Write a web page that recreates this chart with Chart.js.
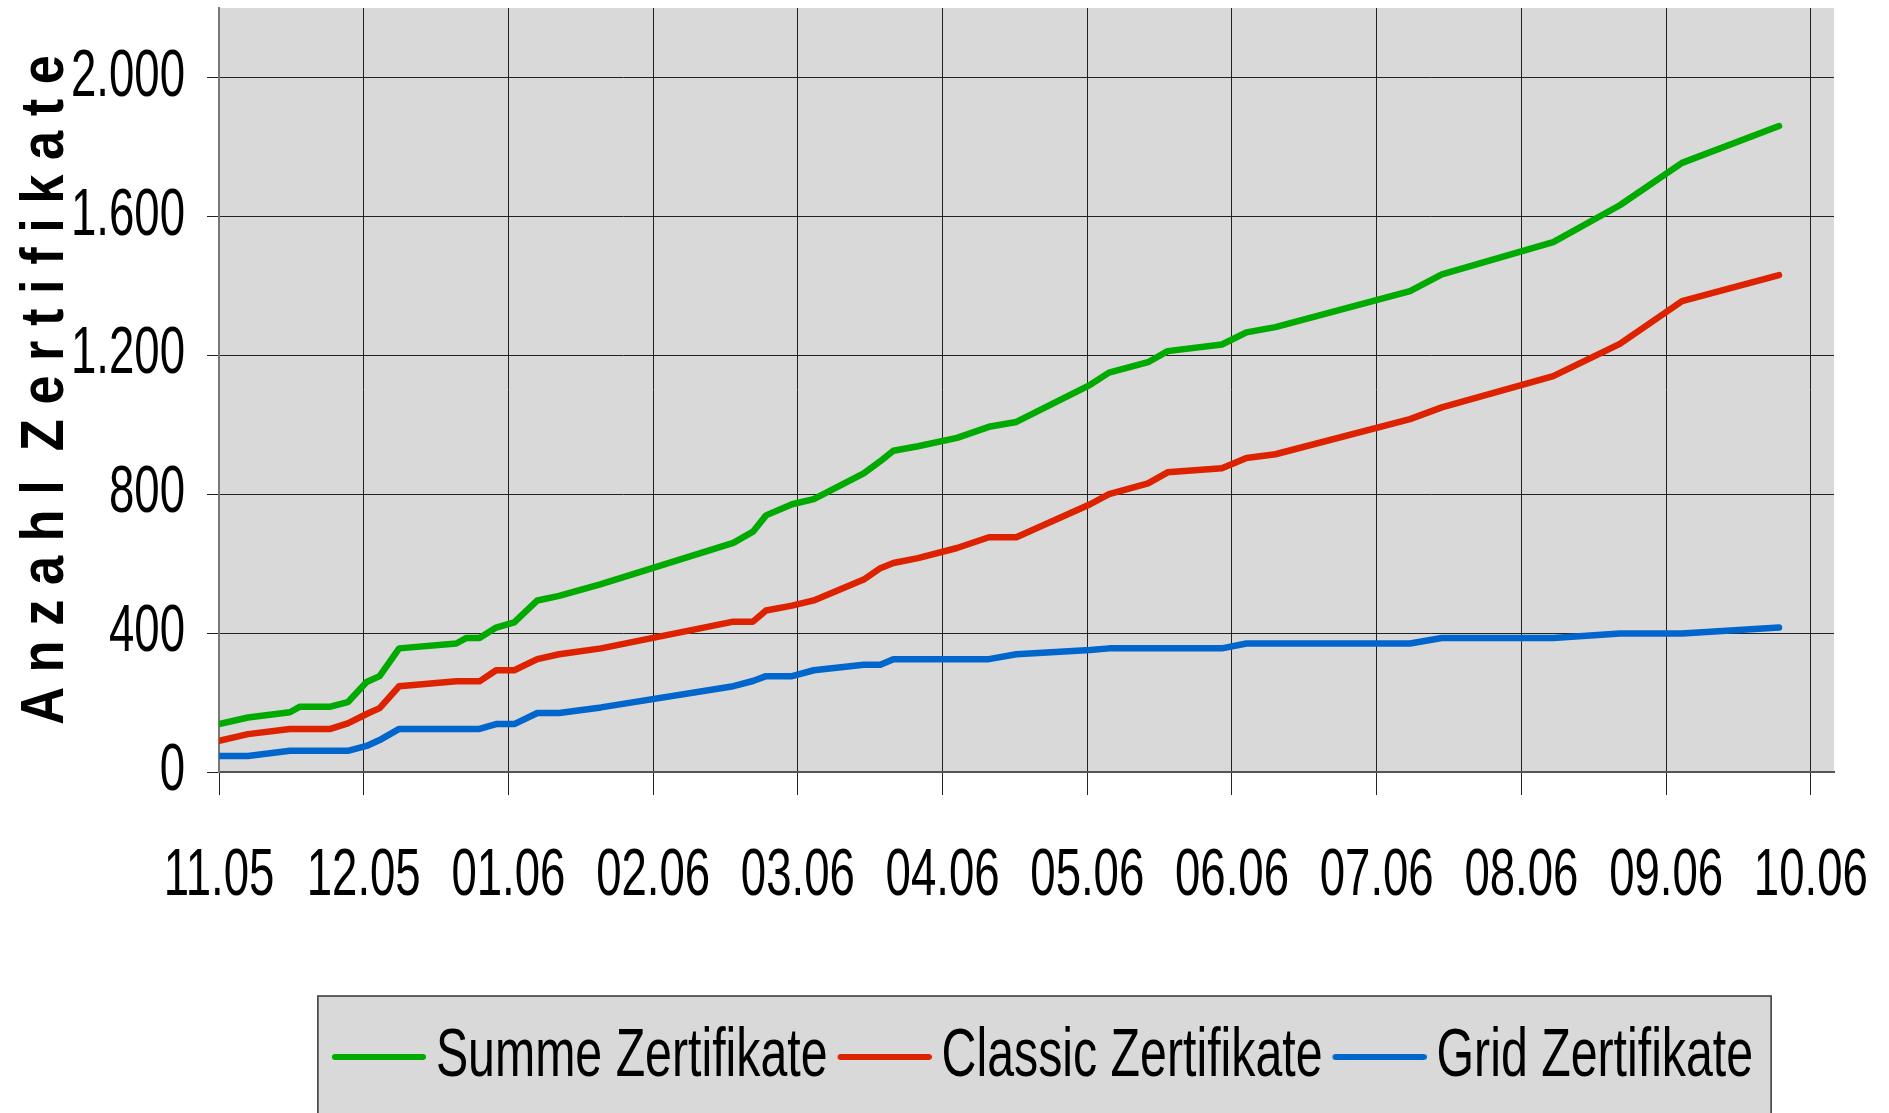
<!DOCTYPE html>
<html>
<head>
<meta charset="utf-8">
<title>Anzahl Zertifikate</title>
<script src="https://cdn.jsdelivr.net/npm/chart.js@4.4.1/dist/chart.umd.min.js"></script>
<style>
  html, body { margin: 0; padding: 0; background: #fff; }
  #chart { display: block; }
</style>
</head>
<body>
<canvas id="chart" width="1889" height="1113"></canvas>
<script>
// month labels on the x axis (one per grid line, starting 11.05)
const monthLabels = ['11.05', '12.05', '01.06', '02.06', '03.06', '04.06', '05.06', '06.06', '07.06', '08.06', '09.06', '10.06'];
const yTickLabels = ['0', '400', '800', '1.200', '1.600', '2.000'];

// position of each data point, in months since 11.05
const datePos = [0, 0.2, 0.49, 0.56, 0.77, 0.89, 1.02, 1.11, 1.245, 1.64, 1.71, 1.8, 1.915, 2.04, 2.2, 2.35, 2.64,
  3.554, 3.69, 3.78, 3.96, 4.11, 4.455, 4.57, 4.66, 4.83, 5.1, 5.32, 5.51, 6.02, 6.15, 6.42, 6.555, 6.93, 7.1, 7.3,
  8.23, 8.45, 9.22, 9.68, 10.11, 10.78];

const summe = [138, 157, 172, 188, 188, 201, 259, 276, 356, 370, 386, 386, 416, 431, 494, 507, 541,
  660, 692, 739, 771, 786, 860, 895, 925, 938, 962, 994, 1008, 1115, 1150, 1180, 1212, 1231, 1266, 1281,
  1385, 1433, 1526, 1632, 1754, 1860];

const classic = [90, 109, 124, 124, 124, 140, 167, 184, 247, 261, 261, 261, 293, 293, 325, 339, 356,
  433, 433, 465, 479, 494, 554, 587, 602, 616, 645, 676, 676, 771, 800, 831, 863, 875, 904, 915,
  1016, 1050, 1140, 1233, 1356, 1431];

const grid = [46, 46, 61, 61, 61, 61, 75, 92, 124, 124, 124, 124, 138, 138, 170, 170, 186,
  247, 262, 276, 276, 293, 309, 309, 325, 325, 325, 325, 339, 351, 356, 356, 356, 356, 370, 370,
  370, 386, 386, 399, 399, 416];

const textFont = "'Liberation Sans', Arial, sans-serif";

function toPoints(values) {
  return datePos.map((x, i) => ({ x: x, y: values[i] }));
}

// legend sample: a line that starts at the left edge of the legend box and runs past it
function legendSample(color) {
  const c = document.createElement('canvas');
  c.width = 118;
  c.height = 8;
  const g = c.getContext('2d');
  g.strokeStyle = color;
  g.lineWidth = 6;
  g.lineCap = 'round';
  g.beginPath();
  g.moveTo(27, 4);
  g.lineTo(115, 4);
  g.stroke();
  return c;
}

function makeLine(label, values, color) {
  return {
    label: label,
    data: toPoints(values),
    borderColor: color,
    backgroundColor: color,
    borderWidth: 6.5,
    borderCapStyle: 'round',
    borderJoinStyle: 'round',
    pointRadius: 0,
    pointHoverRadius: 0,
    pointStyle: legendSample(color),
    fill: false,
    tension: 0
  };
}

// the original uses a narrow face; squeeze text horizontally (bold title a bit less)
function condenseText(ctx) {
  const fill = ctx.fillText.bind(ctx);
  const measure = ctx.measureText.bind(ctx);
  const factor = () => {
    if (/bold/.test(ctx.font)) return 0.845;
    if (/68px/.test(ctx.font)) return 0.71; // legend
    return 0.69;
  };
  ctx.fillText = function (text, x, y) {
    const k = factor();
    ctx.save();
    ctx.translate(x, y);
    ctx.scale(k, 1);
    fill(text, 0, 0);
    ctx.restore();
  };
  ctx.measureText = function (text) {
    const m = measure(text);
    const k = factor();
    return {
      width: m.width * k,
      actualBoundingBoxLeft: m.actualBoundingBoxLeft * k,
      actualBoundingBoxRight: m.actualBoundingBoxRight * k,
      actualBoundingBoxAscent: m.actualBoundingBoxAscent,
      actualBoundingBoxDescent: m.actualBoundingBoxDescent
    };
  };
}

// grey plot area
const plotBackground = {
  id: 'plotBackground',
  beforeDraw(chart) {
    const { ctx, chartArea: a } = chart;
    ctx.save();
    ctx.fillStyle = '#d9d9d9';
    ctx.fillRect(a.left, a.top, a.right - a.left, a.bottom - a.top);
    ctx.restore();
  }
};

// grey framed box behind the legend, legend nudged right like in the original
const legendFrame = {
  id: 'legendFrame',
  afterLayout(chart) {
    chart.legend.left += 16;
    chart.legend.right += 16;
  },
  beforeDraw(chart) {
    const legend = chart.legend;
    const boxes = legend.legendHitBoxes;
    if (!boxes || !boxes.length) return;
    const first = boxes[0];
    const last = boxes[boxes.length - 1];
    const left = first.left - 14;
    const right = last.left + last.width + 18;
    const top = legend.top - 17;
    const ctx = chart.ctx;
    ctx.save();
    ctx.fillStyle = '#d9d9d9';
    ctx.fillRect(left, top, right - left, chart.height - top + 5);
    ctx.strokeStyle = '#333';
    ctx.lineWidth = 1.5;
    ctx.strokeRect(left, top, right - left, chart.height - top + 5);
    ctx.restore();
  }
};

const ctx = document.getElementById('chart').getContext('2d');
condenseText(ctx);

new Chart(ctx, {
  type: 'line',
  data: {
    datasets: [
      makeLine('Summe Zertifikate', summe, '#00aa00'),
      makeLine('Classic Zertifikate', classic, '#dd2200'),
      makeLine('Grid Zertifikate', grid, '#0066cc')
    ]
  },
  options: {
    responsive: false,
    animation: false,
    devicePixelRatio: 1,
    events: [],
    layout: { padding: { top: 8, right: 55, bottom: 12, left: 0 } },
    plugins: {
      legend: {
        position: 'bottom',
        fullSize: false,
        labels: {
          usePointStyle: true,
          pointStyleWidth: 70,
          padding: 10,
          color: '#000',
          font: { family: textFont, size: 68 }
        }
      },
      tooltip: { enabled: false }
    },
    scales: {
      x: {
        type: 'linear',
        min: 0,
        max: 11.16,
        afterFit: (scale) => {
          scale.height = 241;
          scale.paddingLeft = 0;
          scale.paddingRight = 0;
        },
        grid: { color: '#222', lineWidth: 1, tickLength: 23 },
        border: { color: '#555', width: 2 },
        ticks: {
          stepSize: 1,
          includeBounds: false,
          autoSkip: false,
          maxRotation: 0,
          padding: 42,
          color: '#000',
          font: { family: textFont, size: 66 },
          callback: (v) => monthLabels[Math.round(v)]
        }
      },
      y: {
        min: 0,
        max: 2200,
        afterFit: (scale) => {
          scale.width = 219;
          scale.paddingTop = 0;
          scale.paddingBottom = 0;
        },
        grid: { color: '#222', lineWidth: 1, tickLength: 12 },
        border: { color: '#777', width: 2 },
        ticks: {
          stepSize: 400,
          includeBounds: false,
          padding: 22,
          color: '#000',
          font: { family: textFont, size: 66 },
          callback: (v) => yTickLabels[Math.round(v / 400)]
        },
        title: {
          display: true,
          text: 'A n z a h l  Z e r t i f i k a t e',
          color: '#000',
          font: { family: textFont, size: 62, weight: 'bold' },
          padding: { top: 9, bottom: 0 }
        }
      }
    }
  },
  plugins: [plotBackground, legendFrame]
});
</script>
</body>
</html>
